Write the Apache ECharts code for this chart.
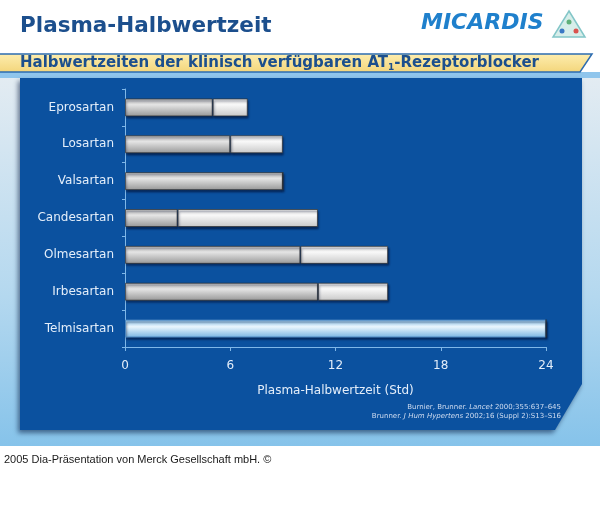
<!DOCTYPE html>
<html>
<head>
<meta charset="utf-8">
<title>Plasma-Halbwertzeit</title>
<script src="https://cdn.jsdelivr.net/npm/echarts@6/dist/echarts.min.js"></script>
<style>
  html, body { margin: 0; padding: 0; background: #fff; }
  #main { width: 600px; height: 508px; }
</style>
</head>
<body>
<div id="main"></div>
<script>
// Halbwertzeiten (Std), untere und obere Grenze
var categories = ['Eprosartan', 'Losartan', 'Valsartan', 'Candesartan', 'Olmesartan', 'Irbesartan', 'Telmisartan'];
var halfLifeMin = [5, 6, 9, 3, 10, 11, 24];
var halfLifeMax = [7, 9, 9, 11, 15, 15, 24];
var xTicks = [0, 6, 12, 18, 24];

var grayDark = new echarts.graphic.LinearGradient(0, 0, 0, 1, [
  { offset: 0, color: '#b0b0b0' },
  { offset: 0.35, color: '#e4e4e4' },
  { offset: 1, color: '#979797' }
]);
var grayLight = new echarts.graphic.LinearGradient(0, 0, 0, 1, [
  { offset: 0, color: '#d8d8d8' },
  { offset: 0.35, color: '#f8f8f8' },
  { offset: 1, color: '#c8c8c8' }
]);
var blueBar = new echarts.graphic.LinearGradient(0, 0, 0, 1, [
  { offset: 0, color: '#86c0ea' },
  { offset: 0.4, color: '#eaf6fd' },
  { offset: 1, color: '#78b4e2' }
]);

var baseData = halfLifeMin.map(function (v, i) {
  if (categories[i] === 'Telmisartan') {
    return { value: v, itemStyle: { color: blueBar, borderColor: '#4b86c0' } };
  }
  return v;
});
var rangeData = halfLifeMax.map(function (v, i) { return v - halfLifeMin[i]; });

var barShadow = {
  borderColor: 'rgba(50,50,50,0.7)',
  borderWidth: 1,
  shadowColor: 'rgba(0,15,50,0.6)',
  shadowBlur: 2,
  shadowOffsetX: 1,
  shadowOffsetY: 2
};

var chart = echarts.init(document.getElementById('main'));

var option = {
  animation: false,
  backgroundColor: '#ffffff',
  grid: { left: 125, right: 54, top: 89, bottom: 161 },
  xAxis: {
    type: 'value',
    min: 0,
    max: 24,
    interval: 6,
    name: 'Plasma-Halbwertzeit (Std)',
    nameLocation: 'middle',
    nameGap: 38,
    nameTextStyle: { color: '#e4eefa', fontSize: 12, fontFamily: 'DejaVu Sans' },
    axisLine: { show: true, lineStyle: { color: '#7fb7e8', width: 1 } },
    axisTick: { show: true, length: 4, lineStyle: { color: '#7fb7e8' } },
    axisLabel: {
      color: '#e4eefa', fontSize: 12, fontFamily: 'DejaVu Sans', margin: 13,
      formatter: function (v) { return xTicks.indexOf(v) >= 0 ? String(v) : ''; }
    },
    splitLine: { show: false }
  },
  yAxis: {
    type: 'category',
    inverse: true,
    data: categories,
    axisLine: { show: true, lineStyle: { color: '#7fb7e8', width: 1 } },
    axisTick: { show: true, length: 3, lineStyle: { color: '#7fb7e8' } },
    axisLabel: { color: '#e4eefa', fontSize: 12, fontFamily: 'DejaVu Sans', margin: 11 }
  },
  series: [
    {
      name: 'min',
      type: 'bar',
      stack: 'hwz',
      barWidth: 18,
      itemStyle: Object.assign({ color: grayDark }, barShadow),
      data: baseData
    },
    {
      name: 'max',
      type: 'bar',
      stack: 'hwz',
      barWidth: 18,
      itemStyle: Object.assign({ color: grayLight }, barShadow),
      data: rangeData
    }
  ],
  graphic: [
    // hintergrund der folie
    {
      type: 'rect', z: -20, silent: true,
      shape: { x: 0, y: 72, width: 600, height: 374 },
      style: {
        fill: new echarts.graphic.LinearGradient(0, 0, 0, 1, [
          { offset: 0, color: '#e4ecf2' },
          { offset: 0.6, color: '#b4d8ef' },
          { offset: 1, color: '#86c3ea' }
        ])
      }
    },
    {
      type: 'rect', z: -19, silent: true,
      shape: { x: 0, y: 72, width: 600, height: 6 },
      style: { fill: '#8fc5ec' }
    },
    // gelbes band
    {
      type: 'polygon', z: -18, silent: true,
      shape: { points: [[-2, 54], [592, 54], [580, 72], [-2, 72]] },
      style: {
        fill: new echarts.graphic.LinearGradient(0, 0, 0, 1, [
          { offset: 0, color: '#fdeeb0' },
          { offset: 1, color: '#f3d57a' }
        ]),
        stroke: '#2d6cb0', lineWidth: 1.5
      }
    },
    // dunkelblaue flaeche
    {
      type: 'polygon', z: -17, silent: true,
      shape: { points: [[20, 78], [582, 78], [582, 384], [555, 430], [20, 430]] },
      style: {
        fill: '#0b519f',
        shadowColor: 'rgba(0,20,60,0.55)', shadowBlur: 5, shadowOffsetX: -2, shadowOffsetY: 3
      }
    },
    {
      type: 'text', z: 10, silent: true,
      style: {
        x: 20, y: 26, text: 'Plasma-Halbwertzeit',
        font: 'bold 21.5px "DejaVu Sans"', fill: '#1c4f8d',
        verticalAlign: 'middle'
      }
    },
    {
      type: 'text', z: 10, silent: true,
      style: {
        x: 20, y: 54,
        text: '{t|Halbwertzeiten der klinisch verfügbaren AT}{s|1}{t|-Rezeptorblocker}',
        fill: '#1c4f8d',
        rich: {
          t: { fontSize: 15, fontWeight: 'bold', fontFamily: 'DejaVu Sans', fill: '#1c4f8d', lineHeight: 18 },
          s: { fontSize: 9, fontWeight: 'bold', fontFamily: 'DejaVu Sans', fill: '#1c4f8d', lineHeight: 9, verticalAlign: 'bottom' }
        }
      }
    },
    // logo
    {
      type: 'text', z: 10, silent: true,
      style: {
        x: 421, y: 23, text: 'MICARDIS',
        font: 'italic bold 22px "DejaVu Sans"', fill: '#1f80cc',
        verticalAlign: 'middle'
      }
    },
    {
      type: 'polygon', z: 10, silent: true,
      shape: { points: [[569, 11], [585, 37], [553, 37]] },
      style: { fill: '#d7eeea', stroke: '#83c6c8', lineWidth: 1.5 }
    },
    { type: 'circle', z: 11, silent: true, shape: { cx: 569, cy: 22, r: 2.5 }, style: { fill: '#5fb07a' } },
    { type: 'circle', z: 11, silent: true, shape: { cx: 562, cy: 31, r: 2.5 }, style: { fill: '#3a78c4' } },
    { type: 'circle', z: 11, silent: true, shape: { cx: 576, cy: 31, r: 2.5 }, style: { fill: '#d9534f' } },
    // quellen
    {
      type: 'text', z: 10, silent: true,
      style: {
        x: 561, y: 403,
        text: 'Burnier, Brunner. {i|Lancet} 2000;355:637–645\nBrunner. {i|J Hum Hypertens} 2002;16 (Suppl 2):S13–S16',
        align: 'right',
        font: '7px "DejaVu Sans"', fill: '#cfdcf0', lineHeight: 9,
        rich: {
          i: { fontStyle: 'italic', fontSize: 7, fontFamily: 'DejaVu Sans', fill: '#cfdcf0', lineHeight: 9 }
        }
      }
    },
    {
      type: 'text', z: 10, silent: true,
      style: {
        x: 4, y: 460, text: '2005 Dia-Präsentation von Merck Gesellschaft mbH. ©',
        font: '11px "Liberation Sans"', fill: '#1a1a1a',
        verticalAlign: 'middle'
      }
    }
  ]
};

chart.setOption(option);
</script>
</body>
</html>
